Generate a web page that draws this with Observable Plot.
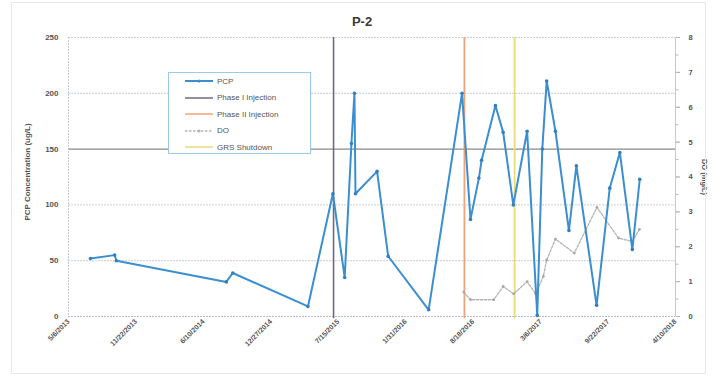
<!DOCTYPE html>
<html>
<head>
<meta charset="utf-8">
<script src="https://cdn.jsdelivr.net/npm/d3@7"></script>
<script src="https://cdn.jsdelivr.net/npm/@observablehq/plot@0.6"></script>
<style>
  html, body { margin: 0; padding: 0; background: #fff; }
  #wrap { position: relative; width: 713px; height: 377px; font-family: "Liberation Sans", Arial, sans-serif; }
  #frame { position: absolute; left: 11px; top: 2px; width: 695px; height: 372px; border: 1px solid #e6e6e6; box-sizing: border-box; pointer-events: none; }
  #legend { position: absolute; left: 168px; top: 72px; width: 143px; height: 82px; border: 1.5px solid #9ccae8; background: #fff; box-sizing: border-box; font-size: 8px; color: #555; }
  #legend .row { position: absolute; left: 16px; height: 10px; display: flex; align-items: center; }
  #legend svg { margin-right: 4px; }
</style>
</head>
<body>
<div id="wrap">
  <div id="chart"></div>
  <div id="frame"></div>
  <div id="legend"></div>
</div>
<script>
// ---- data ----
const pcpDates = ["2013-07-10","2013-09-20","2013-09-25","2014-08-17","2014-09-05","2015-04-16","2015-06-29","2015-08-03","2015-08-23","2015-09-01","2015-09-04","2015-11-07","2015-12-10","2016-04-08","2016-07-16","2016-08-10","2016-09-04","2016-09-12","2016-10-23","2016-11-15","2016-12-15","2017-01-25","2017-02-24","2017-03-11","2017-03-24","2017-04-19","2017-05-29","2017-06-20","2017-08-19","2017-09-27","2017-10-27","2017-12-03","2017-12-25"];
const pcpValues = [52,55,50,31,39,9,110,35,155,200,110,130,54,6,200,87,124,140,189,165,100,166,1,150,211,166,77,135,10,115,147,60,123];

const doDates = ["2016-07-21","2016-08-10","2016-10-18","2016-11-15","2016-12-16","2017-01-25","2017-02-19","2017-03-14","2017-03-24","2017-04-19","2017-06-14","2017-08-20","2017-10-23","2017-12-03","2017-12-24"];
const doValues = [0.7,0.48,0.48,0.86,0.65,1.0,0.65,1.15,1.62,2.22,1.82,3.13,2.25,2.15,2.5];

const eventNames = ["Phase I Injection","Phase II Injection","GRS Shutdown"];
const eventDates = ["2015-07-01","2016-07-23","2016-12-19"];
const eventColors = ["#6f6a82","#f2a27a","#e9dc78"];

const xTickDates = ["2013-05-06","2013-11-22","2014-06-10","2014-12-27","2015-07-15","2016-01-31","2016-08-18","2017-03-06","2017-09-22","2018-04-10"];
const yTicksLeft = [0,50,100,150,200,250];
const yTicksRight = [0,1,2,3,4,5,6,7,8];

const title = "P-2";
const yLabelLeft = "PCP Concentration (ug/L)";
const yLabelRight = "DO (mg/L)";

// ---- build ----
const parse = d3.utcParse("%Y-%m-%d");
const K = 250 / 8; // DO -> left scale
const pcp = pcpDates.map((d, i) => ({date: parse(d), value: pcpValues[i]}));
const dox = doDates.map((d, i) => ({date: parse(d), value: doValues[i] * K}));
const events = eventDates.map((d, i) => ({date: parse(d), name: eventNames[i], color: eventColors[i]}));
const xTicks = xTickDates.map(parse);
const fmt = d3.utcFormat("%-m/%-d/%Y");
const minorRight = d3.range(0, 8.01, 0.5).map(v => v * K);

const blue = "#3b8ecf";

const chart = Plot.plot({
  width: 713,
  height: 377,
  marginLeft: 68,
  marginRight: 38,
  marginTop: 37,
  marginBottom: 61,
  x: {type: "utc", domain: [xTicks[0], xTicks[xTicks.length - 1]]},
  y: {domain: [0, 250]},
  style: {fontFamily: "'Liberation Sans', Arial, sans-serif", background: "transparent", color: "#555"},
  marks: [
    Plot.ruleY(yTicksLeft.filter(v => v !== 150 && v !== 0), {stroke: "#c9ccd4", strokeWidth: 1, strokeDasharray: "2,1"}),
    Plot.ruleY([150], {stroke: "#8a8a8a", strokeWidth: 1.2}),
    Plot.ruleY([0], {stroke: "#b8bcc6", strokeWidth: 1, strokeDasharray: "2,1"}),
    Plot.ruleX([xTicks[0]], {stroke: "#c4c8d0", strokeWidth: 1, strokeDasharray: "2,1"}),
    Plot.ruleX([xTicks[xTicks.length - 1]], {stroke: "#c4c8d0", strokeWidth: 1}),
    Plot.ruleX(events, {x: "date", stroke: "color", strokeWidth: d => d.name === "Phase I Injection" ? 1.6 : 1.8, y1: -2, y2: 250}),
    Plot.axisX(xTicks, {tickFormat: fmt, tickRotate: -45, tickSize: 0, tickPadding: 4, fontSize: 7, fontWeight: "bold", fill: "#555", label: null}),
    Plot.axisY(yTicksLeft, {anchor: "left", tickSize: 0, tickPadding: 10, fontSize: 8, fontWeight: "bold", fill: "#555", label: null}),
    Plot.axisY(yTicksRight.map(v => v * K), {anchor: "right", tickFormat: d => String(Math.round(d / K)), tickSize: 4, tickPadding: 9, fontSize: 7.5, fontWeight: "bold", fill: "#555", stroke: "#aaa", label: null}),
    Plot.axisY(minorRight, {anchor: "right", tickFormat: () => "", tickSize: 2.5, stroke: "#bbb", label: null}),
    Plot.line(dox, {x: "date", y: "value", stroke: "#b4b4b4", strokeWidth: 1.3, strokeDasharray: "2.5,1.5"}),
    Plot.dot(dox, {x: "date", y: "value", r: 1.4, fill: "#a8a8a8"}),
    Plot.line(pcp, {x: "date", y: "value", stroke: blue, strokeWidth: 2}),
    Plot.dot(pcp, {x: "date", y: "value", r: 1.8, fill: "#2f80c2"}),
    Plot.text([title], {frameAnchor: "top", dx: -10, dy: -21, fontSize: 13, fontWeight: "bold", fill: "#3a3a3a"}),
    Plot.text([yLabelLeft], {frameAnchor: "left", textAnchor: "middle", dx: -41, dy: -5, rotate: -90, fontSize: 8, fontWeight: "bold", fill: "#555"}),
    Plot.text([yLabelRight], {frameAnchor: "right", textAnchor: "middle", dx: 29, dy: 0, rotate: 90, fontSize: 7.5, fontWeight: "bold", fill: "#555"})
  ]
});
document.getElementById("chart").appendChild(chart);

// ---- legend ----
const legendItems = [
  {name: "PCP", color: blue, dash: null, marker: true},
  {name: eventNames[0], color: eventColors[0], dash: null},
  {name: eventNames[1], color: eventColors[1], dash: null},
  {name: "DO", color: "#b4b4b4", dash: "2.5,1.5", marker: true},
  {name: eventNames[2], color: eventColors[2], dash: null}
];
const lg = document.getElementById("legend");
legendItems.forEach((it, i) => {
  const row = document.createElement("div");
  row.className = "row";
  row.style.top = (3 + i * 16.6) + "px";
  row.innerHTML = `<svg width="28" height="6"><line x1="0" x2="28" y1="3" y2="3" stroke="${it.color}" stroke-width="${it.name === 'PCP' ? 2 : 1.5}" ${it.dash ? `stroke-dasharray="${it.dash}"` : ""}/>${it.marker ? `<circle cx="14" cy="3" r="1.6" fill="${it.color}"/>` : ""}</svg><span>${it.name}</span>`;
  lg.appendChild(row);
});
</script>
</body>
</html>
